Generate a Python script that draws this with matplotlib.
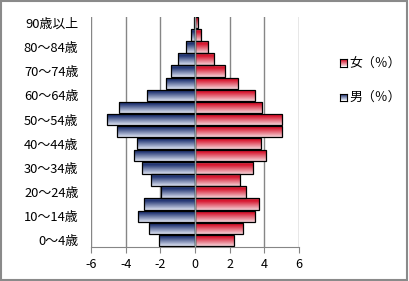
import numpy as np
import matplotlib
matplotlib.use('Agg')
import matplotlib.pyplot as plt
from matplotlib.colors import LinearSegmentedColormap
from matplotlib.patches import Rectangle

plt.rcParams['font.family'] = ['Noto Sans CJK JP', 'DejaVu Sans']

# age groups, bottom to top
ages = ['0～4歳', '5～9歳', '10～14歳', '15～19歳', '20～24歳', '25～29歳',
        '30～34歳', '35～39歳', '40～44歳', '45～49歳', '50～54歳', '55～59歳',
        '60～64歳', '65～69歳', '70～74歳', '75～79歳', '80～84歳', '85～89歳',
        '90歳以上']
male = [2.06, 2.64, 3.28, 2.93, 1.95, 2.56, 3.08, 3.5, 3.37, 4.5, 5.1, 4.4,
        2.76, 1.7, 1.4, 0.97, 0.52, 0.22, 0.08]
female = [2.25, 2.77, 3.46, 3.7, 2.95, 2.6, 3.35, 4.1, 3.8, 5.03, 5.03, 3.87,
          3.49, 2.48, 1.73, 1.1, 0.75, 0.35, 0.17]
xticks = [-6, -4, -2, 0, 2, 4, 6]

# gradients, top -> bottom of each bar
cm_m = LinearSegmentedColormap.from_list('m', [(0, '#55659f'), (0.2, '#1d3170'), (1, '#dde3f2')])
cm_f = LinearSegmentedColormap.from_list('f', [(0, '#e8606f'), (0.2, '#d60e27'), (1, '#f5d3d8')])
grad = np.linspace(0, 1, 64).reshape(-1, 1)

fig = plt.figure(figsize=(4.09, 2.81), dpi=100)
fig.patches.append(Rectangle((0.002, 0.003), 0.994, 0.992, transform=fig.transFigure,
                             fill=False, edgecolor='#8a8a8a', linewidth=1.5))
ax = fig.add_axes([91 / 409, 34.5 / 281, 208 / 409, 229.8 / 281])

y = np.arange(len(ages))
h = 0.94
bars_m = ax.barh(y, [-v for v in male], height=h, color='none', edgecolor='black', linewidth=0.9, zorder=3)
bars_f = ax.barh(y, female, height=h, color='none', edgecolor='black', linewidth=0.9, zorder=3)

for bars, cmap in ((bars_m, cm_m), (bars_f, cm_f)):
    for p in bars:
        x0, y0 = p.get_x(), p.get_y()
        w, hh = p.get_width(), p.get_height()
        im = ax.imshow(grad, cmap=cmap, aspect='auto', interpolation='bilinear',
                       extent=[min(x0, x0 + w), max(x0, x0 + w), y0, y0 + hh],
                       zorder=2, origin='upper')
        im.set_clip_path(p)

ax.set_xlim(-6, 6)
ax.set_ylim(-0.5, len(ages) - 0.5)
for xv in xticks:
    if xv != 0:
        ax.axvline(xv, color='#868686', linewidth=1.0, zorder=1)
ax.axvline(0, color='#8c9c9c', linewidth=1.0, zorder=4)

ax.set_xticks(xticks)
ax.set_xticklabels([str(v) for v in xticks], fontsize=9)
ax.set_yticks(y[::2])
ax.set_yticklabels(ages[::2], fontsize=9.3)
ax.tick_params(axis='y', length=0, pad=9)
ax.tick_params(axis='x', length=4, color='#868686', direction='out', pad=4)
for s in ['top', 'right', 'left']:
    ax.spines[s].set_visible(False)
ax.spines['bottom'].set_color('#868686')

# legend
for label, cmap, ypx in (('女（％）', cm_f, 63), ('男（％）', cm_m, 97)):
    lax = fig.add_axes([340 / 409, 1 - (ypx + 3.5) / 281, 7 / 409, 7 / 281])
    lax.imshow(grad, cmap=cmap, aspect='auto')
    lax.set_xticks([])
    lax.set_yticks([])
    for s in lax.spines.values():
        s.set_linewidth(0.8)
    fig.text(349 / 409, 1 - ypx / 281, label, fontsize=9.3, va='center', ha='left')

fig.savefig('out.png', dpi=100)
